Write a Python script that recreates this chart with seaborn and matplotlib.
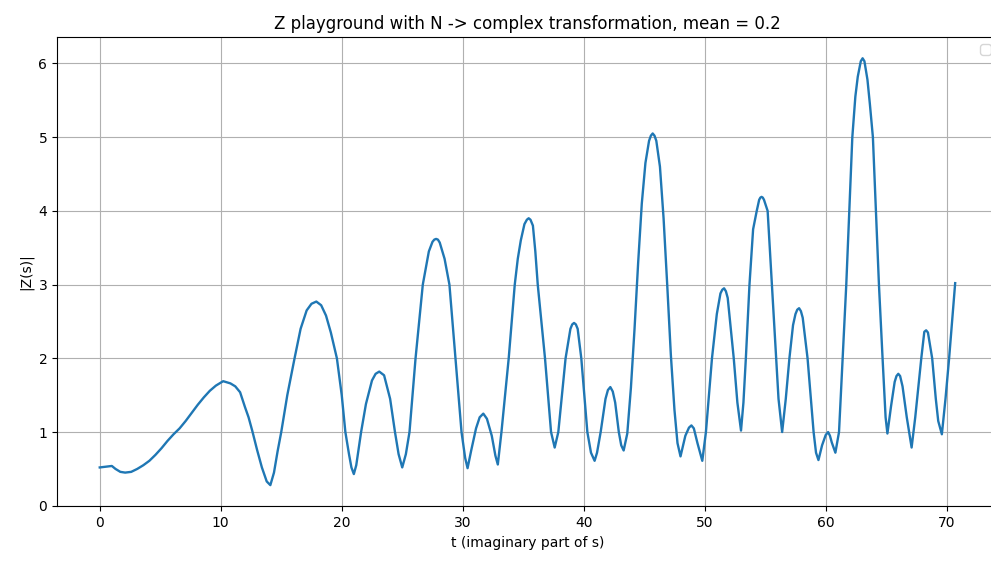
import matplotlib
matplotlib.use("Agg")
import matplotlib.pyplot as plt
import seaborn as sns
import pandas as pd

# values (t, |Z(s)|), line by line in matching order
t_values = [
    0.0, 0.5, 1.0, 1.3, 1.7, 2.1, 2.6, 3.1, 3.6, 4.1,
    4.6, 5.1, 5.6, 6.1, 6.6, 7.1, 7.6, 8.1, 8.6, 9.1,
    9.6, 10.2, 10.8, 11.2, 11.6, 12.0, 12.3, 12.6, 13.0, 13.4,
    13.8, 14.1, 14.4, 14.7, 15.0, 15.5, 16.1, 16.6, 17.1, 17.5,
    17.9, 18.3, 18.7, 19.1, 19.6, 20.0, 20.3, 20.6, 20.8, 21.0,
    21.2, 21.6, 22.0, 22.5, 22.8, 23.1, 23.5, 24.0, 24.4, 24.7,
    25.0, 25.3, 25.6, 26.1, 26.7, 27.2, 27.5, 27.65, 27.8, 27.95,
    28.1, 28.5, 28.9, 29.4, 29.9, 30.2, 30.4, 30.7, 31.1, 31.4,
    31.7, 32.0, 32.4, 32.7, 32.9, 33.2, 33.8, 34.3, 34.55, 34.8,
    35.1, 35.3, 35.45, 35.6, 35.8, 36.0, 36.2, 36.8, 37.3, 37.6,
    37.9, 38.5, 38.9, 39.05, 39.2, 39.35, 39.5, 39.8, 40.3, 40.6,
    40.9, 41.1, 41.4, 41.8, 42.0, 42.2, 42.4, 42.6, 42.9, 43.1,
    43.3, 43.6, 43.9, 44.2, 44.5, 44.8, 45.1, 45.4, 45.55, 45.7,
    45.85, 46.0, 46.3, 46.6, 46.9, 47.2, 47.5, 47.75, 48.0, 48.4,
    48.7, 48.9, 49.1, 49.4, 49.8, 50.1, 50.6, 51.0, 51.3, 51.45,
    51.6, 51.75, 51.9, 52.4, 52.7, 53.0, 53.2, 53.4, 53.7, 54.0,
    54.3, 54.5, 54.6, 54.7, 54.8, 54.9, 55.2, 55.55, 55.9, 56.1,
    56.4, 56.7, 57.0, 57.3, 57.5, 57.65, 57.8, 57.95, 58.1, 58.5,
    59.0, 59.2, 59.4, 59.7, 60.0, 60.2, 60.35, 60.5, 60.8, 61.1,
    61.4, 61.7, 61.95, 62.2, 62.45, 62.65, 62.9, 63.05, 63.2, 63.45,
    63.65, 63.9, 64.15, 64.4, 64.7, 64.95, 65.1, 65.4, 65.7, 65.85,
    66.0, 66.15, 66.35, 66.7, 67.1, 67.4, 67.9, 68.15, 68.3, 68.45,
    68.8, 69.1, 69.3, 69.6, 69.9, 70.2, 70.7,
]
z_abs = [
    0.52, 0.53, 0.54, 0.50, 0.46, 0.45, 0.46, 0.50, 0.55, 0.61,
    0.69, 0.78, 0.88, 0.97, 1.05, 1.15, 1.26, 1.37, 1.47, 1.56,
    1.63, 1.69, 1.66, 1.62, 1.54, 1.34, 1.20, 1.02, 0.76, 0.52,
    0.33, 0.28, 0.45, 0.74, 1.00, 1.50, 2.00, 2.40, 2.65, 2.74,
    2.77, 2.72, 2.58, 2.35, 2.00, 1.50, 1.00, 0.70, 0.52, 0.43,
    0.55, 1.00, 1.38, 1.70, 1.79, 1.82, 1.77, 1.45, 1.00, 0.70,
    0.52, 0.70, 1.00, 2.00, 3.00, 3.45, 3.58, 3.61, 3.62, 3.61,
    3.57, 3.35, 3.00, 2.00, 1.00, 0.65, 0.51, 0.75, 1.05, 1.20,
    1.25, 1.18, 0.95, 0.68, 0.56, 1.00, 2.00, 3.00, 3.35, 3.60,
    3.82, 3.88, 3.90, 3.88, 3.80, 3.45, 3.00, 2.00, 1.00, 0.79,
    1.00, 2.00, 2.40, 2.46, 2.48, 2.46, 2.40, 2.00, 1.00, 0.72,
    0.61, 0.72, 1.00, 1.45, 1.57, 1.61, 1.55, 1.40, 1.00, 0.82,
    0.75, 0.98, 1.60, 2.40, 3.30, 4.10, 4.65, 4.95, 5.02, 5.05,
    5.02, 4.95, 4.60, 3.90, 3.00, 2.05, 1.30, 0.85, 0.67, 0.95,
    1.06, 1.09, 1.05, 0.85, 0.61, 1.00, 2.00, 2.60, 2.88, 2.93,
    2.95, 2.91, 2.82, 2.00, 1.40, 1.02, 1.40, 2.00, 3.00, 3.75,
    4.00, 4.15, 4.18, 4.19, 4.18, 4.15, 4.00, 3.00, 2.00, 1.45,
    1.00, 1.45, 2.00, 2.45, 2.60, 2.66, 2.68, 2.64, 2.55, 2.00,
    1.00, 0.72, 0.62, 0.82, 0.96, 1.00, 0.95, 0.86, 0.72, 1.00,
    2.00, 3.00, 4.00, 5.00, 5.55, 5.82, 6.03, 6.07, 6.03, 5.78,
    5.45, 5.00, 4.00, 3.00, 2.00, 1.20, 0.98, 1.35, 1.68, 1.76,
    1.79, 1.76, 1.62, 1.20, 0.79, 1.20, 2.00, 2.36, 2.38, 2.35,
    2.00, 1.45, 1.15, 0.97, 1.45, 2.00, 3.02,
]

title_text = "Z playground with N -> complex transformation, mean = 0.2"
x_label = "t (imaginary part of s)"
y_label = "|Z(s)|"

df = pd.DataFrame({"t": t_values, "z": z_abs})

fig = plt.figure(figsize=(9.91, 5.63), dpi=100)
ax = fig.add_axes([0.0575, 0.1004, 0.9495, 0.834])
sns.lineplot(data=df, x="t", y="z", ax=ax, color="#1f77b4", linewidth=1.7)
ax.set_title(title_text, fontsize=12)
ax.set_xlabel(x_label)
ax.set_ylabel(y_label)
ax.grid(True)
ax.legend(loc="upper right")
fig.savefig("out.png", dpi=100)
